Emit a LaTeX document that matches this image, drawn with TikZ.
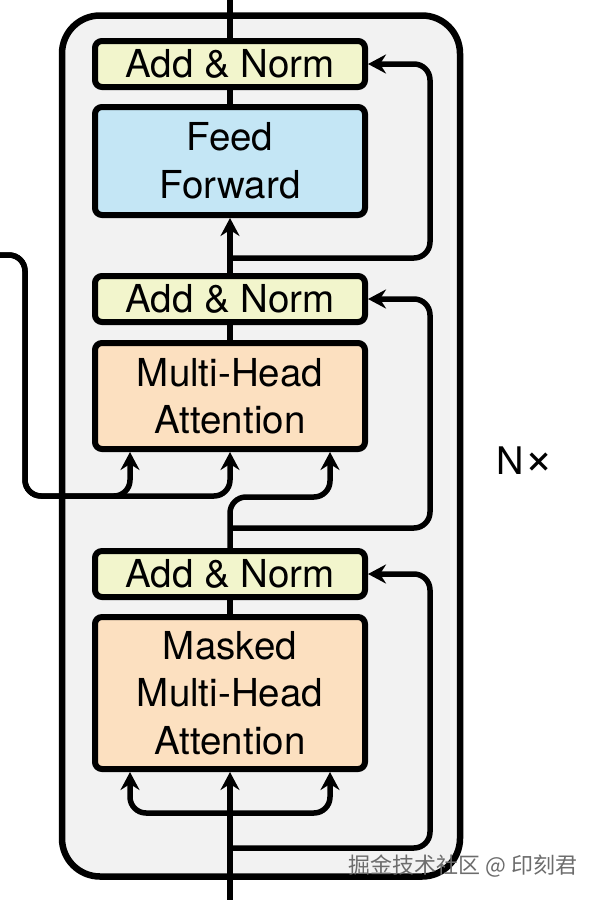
\documentclass[tikz,border=0pt]{standalone}
\usepackage{fontspec}
\setmainfont{TeX Gyre Heros}
\newfontfamily\cjk{Noto Sans CJK SC}
\usetikzlibrary{arrows.meta,calc}
\definecolor{anfill}{RGB}{242,245,204}
\definecolor{fffill}{RGB}{196,230,245}
\definecolor{attfill}{RGB}{252,224,192}
\definecolor{stackfill}{RGB}{242,242,242}
\begin{document}
\begin{tikzpicture}[x=1pt,y=-1pt,
  blk/.style={draw=black, line width=6pt, rounded corners=7pt, minimum width=270pt,
    align=center, font=\fontsize{38.5}{47.5}\selectfont, inner sep=0pt},
  an/.style={blk, fill=anfill, minimum height=46pt},
  ffb/.style={blk, fill=fffill, minimum height=108pt},
  att/.style={blk, fill=attfill},
  wire/.style={line width=5.5pt, rounded corners=16pt},
  arr/.style={wire, -{Stealth[length=18pt,width=19pt,inset=6pt]}},
]
\useasboundingbox (0,0) rectangle (600,900);
\node[draw=black, line width=6.5pt, fill=stackfill, rounded corners=38pt,
  minimum width=398pt, minimum height=861pt] (stack) at (261,446) {};

% nodes
\node[an] (an1) at (230,64) {Add \& Norm};
\node[ffb] (ff) at (230,161) {Feed\\Forward};
\node[an] (an2) at (230,299) {Add \& Norm};
\node[att, minimum height=106pt] (mha) at (230,396) {Multi-Head\\Attention};
\node[an] (an3) at (230,574) {Add \& Norm};
\node[att, minimum height=152pt] (mmha) at (230,693) {Masked\\Multi-Head\\Attention};
\node[font=\fontsize{38}{40}\selectfont, inner sep=0pt] (nx) at (525,461) {N{\fontsize{50}{50}\selectfont ×}};
\node[text=gray!85!black, font=\cjk\fontsize{22}{22}\selectfont] (wm) at (463,866) {掘金技术社区 @ 印刻君};

% coordinates
\coordinate (top) at (230,-5);
\coordinate (bot) at (230,905);
\coordinate (enc) at (-10,255);
\coordinate (r1) at (230,258);
\coordinate (r2) at (230,528);
\coordinate (r3) at (230,848);
\coordinate (b0) at (230,813);
\coordinate (kl) at ($(mha.south)+(-100,0)$);
\coordinate (kr) at ($(mha.south)+(100,0)$);
\coordinate (ml) at ($(mmha.south)+(-100,0)$);
\coordinate (mr) at ($(mmha.south)+(100,0)$);

% connectors
\draw[wire, rounded corners=0pt] (an1.north) -- (top);
\draw[wire, rounded corners=0pt] (ff.north) -- (an1.south);
\draw[arr] (an2.north) -- (ff.south);
\draw[arr] (r1) -| (430,64) -- (an1.east);
\draw[wire, rounded corners=0pt] (mha.north) -- (an2.south);
\draw[arr] (enc) -| (25,496) -| (kl);
\draw[arr] (enc) -| (25,496) -| (mha.south);
\draw[arr] (an3.north) |- (330,497) -- (kr);
\draw[arr] (r2) -| (430,299) -- (an2.east);
\draw[wire, rounded corners=0pt] (mmha.north) -- (an3.south);
\draw[arr] (bot) -- (mmha.south);
\draw[arr] (b0) -| (ml);
\draw[arr] (b0) -| (mr);
\draw[arr] (r3) -| (430,574) -- (an3.east);
\end{tikzpicture}
\end{document}
